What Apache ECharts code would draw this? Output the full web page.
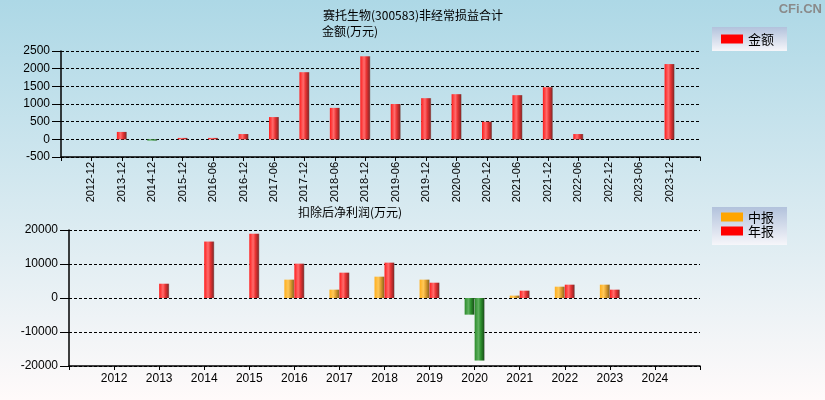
<!DOCTYPE html>
<html><head><meta charset="utf-8">
<script src="https://cdn.jsdelivr.net/npm/echarts@6/dist/echarts.min.js"></script>
<style>html,body{margin:0;padding:0;}#c{width:825px;height:400px;}</style>
</head><body><div id="c"></div>
<script>
// ---- data ----
const topCategories = ['2012-12','2013-12','2014-12','2015-12','2016-06','2016-12','2017-06','2017-12','2018-06','2018-12','2019-06','2019-12','2020-06','2020-12','2021-06','2021-12','2022-06','2022-12','2023-06','2023-12'];
const nonRecurring = [null,210,-35,40,40,150,630,1900,890,2350,1000,1165,1278,498,1250,1475,150,null,null,2130];
const years = ['2012','2013','2014','2015','2016','2017','2018','2019','2020','2021','2022','2023','2024'];
const midReport = [null,null,null,null,5400,2450,6275,5400,-4900,700,3330,3920,null];
const annualReport = [null,4200,16600,18900,10100,7450,10400,4500,-18400,2150,3920,2450,null];

const FONT = 'Liberation Sans, Noto Sans CJK SC, sans-serif';
const CJK = 'Noto Sans CJK SC, Liberation Sans, sans-serif';
const G = echarts.graphic.LinearGradient;
function grad(c) {
  return new G(0,0,1,0,[
    {offset:0,color:c[0]},{offset:0.38,color:c[1]},{offset:0.62,color:c[2]},{offset:0.9,color:c[3]},{offset:1,color:'#8c8c8c'}]);
}
const redG = grad(['#ff1c1c','#ff6c6c','#e83232','#962828']);
const orangeG = grad(['#ffae1c','#ffc858','#e0a030','#9c7020']);
const greenG = grad(['#2a8c2a','#60b060','#2c902c','#1c5a1c']);
function mk(arr, pos) {
  return arr.map(v => v == null ? null : (v < 0 ? {value:v, itemStyle:{color:greenG}} : {value:v, itemStyle:{color:pos}}));
}
const pad = a => [null].concat(a, [null]);

const chart = echarts.init(document.getElementById('c'));
const axisLbl = {color:'#000', fontSize:12, fontFamily:FONT};
const plain = v => String(v);
const option = {
  animation:false,
  backgroundColor: new G(0,0,0,1,[{offset:0,color:'#add8e6'},{offset:1,color:'#fffafa'}]),
  title:[
    {text:'赛托生物(300583)非经常损益合计', left:323, top:9, padding:0, textStyle:{fontSize:12, fontWeight:'normal', color:'#000', fontFamily:CJK}},
    {text:'金额(万元)', left:322, top:25, padding:0, textStyle:{fontSize:12, fontWeight:'normal', color:'#000', fontFamily:CJK}},
    {text:'扣除后净利润(万元)', left:298, top:206, padding:0, textStyle:{fontSize:12, fontWeight:'normal', color:'#000', fontFamily:CJK}}
  ],
  graphic:[
    {type:'rect', left:712, top:27, shape:{width:75, height:24}, style:{fill:new G(0,0,0,1,[{offset:0,color:'#b2c2dc'},{offset:1,color:'#f6f6fa'}])}, z:-1},
    {type:'rect', left:712, top:207, shape:{width:75, height:38}, style:{fill:new G(0,0,0,1,[{offset:0,color:'#b2c2dc'},{offset:1,color:'#f6f6fa'}])}, z:-1},
    {type:'text', right:3, top:3, style:{text:'CFi.CN', fill:'#8a8a8a', font:'bold 13px Liberation Sans'}}
  ],
  legend:[
    {left:721, top:32, padding:0, itemWidth:22, itemHeight:9, icon:'rect',
     textStyle:{fontSize:13, color:'#000', fontFamily:CJK, lineHeight:14},
     data:[{name:'金额', itemStyle:{color:'#ff0000'}}]},
    {left:721, top:210, padding:0, orient:'vertical', itemGap:0, itemWidth:22, itemHeight:9, icon:'rect',
     textStyle:{fontSize:13, color:'#000', fontFamily:CJK, lineHeight:14},
     data:[{name:'中报', itemStyle:{color:'#ffa500'}},{name:'年报', itemStyle:{color:'#ff0000'}}]}
  ],
  grid:[
    {left:61, right:125, top:51, height:106},
    {left:69, right:125, top:230, height:136}
  ],
  xAxis:[
    {type:'category', gridIndex:0, data:['',...topCategories,''], boundaryGap:false,
     axisLine:{onZero:false, lineStyle:{color:'#000', width:1.5}},
     axisTick:{show:true, length:4, interval:0, lineStyle:{color:'#000'}},
     axisLabel:Object.assign({}, axisLbl, {rotate:90, interval:0, margin:5, fontSize:11})},
    {type:'category', gridIndex:1, data:['',...years,''], boundaryGap:false,
     axisLine:{onZero:false, lineStyle:{color:'#000', width:1.5}},
     axisTick:{show:true, length:4, interval:0, lineStyle:{color:'#000'}},
     axisLabel:Object.assign({interval:0, margin:7}, axisLbl)}
  ],
  yAxis:[
    {type:'value', gridIndex:0, min:-500, max:2500, interval:500,
     axisLine:{show:true, lineStyle:{color:'#000', width:1.5}},
     axisTick:{show:true, length:9, lineStyle:{color:'#000'}},
     axisLabel:Object.assign({margin:11, formatter:plain}, axisLbl),
     splitLine:{show:true, lineStyle:{color:'#000', type:[3,2], width:1}}},
    {type:'value', gridIndex:1, min:-20000, max:20000, interval:10000,
     axisLine:{show:true, lineStyle:{color:'#000', width:1.5}},
     axisTick:{show:true, length:9, lineStyle:{color:'#000'}},
     axisLabel:Object.assign({margin:11, formatter:plain}, axisLbl),
     splitLine:{show:true, lineStyle:{color:'#000', type:[3,2], width:1}}}
  ],
  series:[
    {name:'金额', type:'bar', xAxisIndex:0, yAxisIndex:0, barWidth:10, data:pad(mk(nonRecurring, redG))},
    {name:'中报', type:'bar', xAxisIndex:1, yAxisIndex:1, barWidth:10, barGap:'0%', data:pad(mk(midReport, orangeG))},
    {name:'年报', type:'bar', xAxisIndex:1, yAxisIndex:1, barWidth:10, barGap:'0%', data:pad(mk(annualReport, redG))}
  ]
};
chart.setOption(option);
</script></body></html>
